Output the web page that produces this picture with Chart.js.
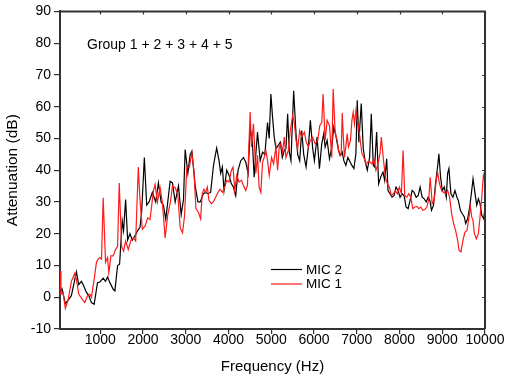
<!DOCTYPE html>
<html>
<head>
<meta charset="utf-8">
<script src="https://cdn.jsdelivr.net/npm/chart.js@4.4.1/dist/chart.umd.min.js"></script>
<style>
html,body{margin:0;padding:0;background:#fff}
</style>
</head>
<body>
<canvas id="chart" width="505" height="379"></canvas>
<script>
// tick values
const xTicks=[1000,2000,3000,4000,5000,6000,7000,8000,9000,10000];
const yMin=-10, yMax=90;

// MIC 2 (black)
const mic2Freq=[60,105,183,246,324,442,496,559,598,677,731,794,857,935,990,1068,1123,1170,1225,1303,1342,1405,1452,1514,1546,1593,1640,1694,1749,1812,1875,1929,1969,2031,2086,2141,2219,2297,2360,2423,2477,2532,2579,2634,2689,2752,2830,2893,2947,2986,3049,3104,3143,3221,3284,3339,3410,3464,3519,3582,3645,3676,3723,3778,3817,3856,3895,3958,4013,4067,4114,4169,4224,4287,4349,4404,4459,4506,4561,4600,4639,4678,4741,4796,4850,4913,4952,4991,5030,5070,5109,5164,5211,5258,5305,5344,5383,5422,5461,5524,5579,5618,5665,5712,5759,5814,5868,5915,5970,6009,6072,6127,6181,6228,6260,6307,6362,6416,6463,6518,6573,6620,6660,6698,6745,6792,6831,6886,6933,6980,7011,7050,7105,7152,7199,7246,7301,7340,7387,7418,7465,7512,7559,7614,7653,7700,7731,7778,7825,7872,7919,7966,8013,8060,8107,8154,8201,8248,8295,8342,8389,8436,8483,8530,8577,8624,8671,8710,8749,8796,8843,8890,8921,8961,9000,9047,9094,9125,9156,9203,9250,9297,9344,9376,9423,9470,9516,9548,9595,9642,9689,9720,9767,9806,9845,9884,9924,9971,10000];
const mic2Db=[1.5,2.7,-2,-1,0.5,8,4,5,4,1.5,0.5,-1.7,-2.2,4.6,4.8,6,5,6.4,4.6,2.5,2,10,10.4,24,21,30.8,18,20,18,19.3,21,22,27,44,29,30,33,30,36,30,29,24.5,30,36.5,36,30,35,26,30.8,46.5,39,45,46,35,30,30,32.6,33,32.6,33,41,43.6,47,43,39,41,33.6,40,38.4,35.7,34.7,32,40,43,44,42.5,39,53.6,48.3,37.8,45,52,43,45.7,45,55,50,64,56.7,50.4,46.8,47.8,48.8,44,46.2,46.8,57.8,45.7,43,65,51.5,45,43,52.5,45,41,47.3,55.7,46.8,43,50.4,40.5,48.3,51.5,47.3,49.4,43.6,47.3,53.6,50.4,46.2,44.7,45.7,43,41.5,44,43,41.5,40.5,45.2,62,48.8,61,46.8,42.6,40,44,57.8,41.5,41,52,35.7,37.8,39.4,36.8,43.6,33.6,32.6,31.5,32,34.7,33.6,31.5,32.6,32,28.4,27.9,30.5,33.6,33,31.5,32,34.7,31.5,31,30,31.5,30.5,27.4,29,35.7,41,45.2,37.8,33.6,34.7,31.5,38.9,40.5,32.6,31.5,33.6,31.5,30.5,27.4,26.3,25.3,23.2,24.7,28.4,33.6,37.3,32.6,29,31,29.5,25.8,24.7,28.4];

// MIC 1 (red)
const mic1Freq=[60,80,128,183,246,324,403,442,496,575,637,700,755,794,857,911,951,990,1029,1068,1123,1170,1201,1248,1303,1358,1405,1444,1499,1546,1593,1655,1718,1773,1828,1890,1929,1984,2047,2109,2164,2243,2282,2337,2399,2454,2517,2579,2642,2689,2752,2814,2869,2924,2971,3025,3080,3143,3190,3237,3300,3347,3386,3425,3464,3504,3543,3598,3645,3699,3754,3801,3856,3911,3958,4013,4067,4106,4146,4193,4247,4302,4349,4404,4443,4506,4537,4584,4639,4678,4717,4756,4796,4835,4874,4913,4952,5007,5054,5109,5148,5187,5226,5265,5305,5344,5398,5445,5500,5539,5579,5618,5665,5712,5774,5821,5868,5915,5970,6025,6088,6134,6181,6213,6260,6307,6362,6416,6448,6495,6542,6597,6636,6660,6690,6713,6752,6776,6807,6854,6886,6917,6948,6980,7011,7042,7073,7120,7167,7214,7261,7308,7355,7402,7449,7496,7543,7575,7622,7669,7716,7763,7810,7856,7903,7950,7997,8044,8084,8123,8170,8217,8264,8311,8358,8405,8452,8499,8546,8593,8640,8686,8718,8765,8812,8859,8890,8937,8984,9031,9078,9125,9172,9219,9266,9313,9360,9391,9438,9485,9532,9579,9626,9657,9689,9720,9751,9798,9845,9884,9924,9963,9986,10000];
const mic1Db=[8.3,1,1.5,-3.5,-1,5,7.5,5.6,1,-0.6,-1.7,0.4,1,0,5.6,11,12,12.5,12,31.3,11,12.5,7.7,13,13,15,16,36,16,14.5,17.7,15,18,18.7,17.7,41,30.8,21.4,22.4,25,24.5,33.4,35.5,30,34.5,29.7,18.7,26,30,35,34.5,32.4,21.9,20.3,25.5,41,40.7,45.4,40,28,26.6,24.7,32.6,34,33,34.7,30.5,29.5,30,31.5,33,34,33,34.7,36.8,36.3,40,41,33.6,38.4,36.3,36.8,35.2,33.6,35.2,58.3,47.3,54.6,39,44.7,34.7,33,42.5,44,46.2,43,38.4,44,42,47.3,40,47.3,48.3,45.7,50.4,44,46.2,52.5,57.2,55,49.4,46.8,52.5,50.4,52,48.8,47.3,49.4,50.4,48.3,49.4,54,55,64,49.4,55.7,54,44,65.6,52,49.4,44.7,45,58,49.4,44,48.3,51.5,47.3,49.4,55.7,58.3,54.6,58.8,55.7,53.6,50.4,45.2,44,42,42.6,42.6,42,43.6,40,42,45.2,50.4,43.6,37.8,35.7,34.7,32,32.6,33.6,32.6,34.7,32.6,46.2,32,31.5,32.6,31.5,27.9,28.4,28.6,27.9,28.4,27.4,27.6,28.4,31,37.8,29.5,30.5,36.8,39.4,35.7,33.6,33,32.6,33.6,31.5,26.3,23.2,21,18,14.8,14.3,18,20.5,21,25.3,28.6,25.3,24.2,20,18.4,20,25.3,31.5,38.4,37.3,31.5];

const note="Group 1 + 2 + 3 + 4 + 5";
const FONT='"Liberation Sans", Arial, sans-serif';
const AXIS='#333';

function pairs(xs,ys){ return xs.map((x,i)=>({x:x,y:ys[i]})); }

// box on top/right with inward ticks, legend and note text
const extras={
  id:'extras',
  afterDraw(chart){
    const ctx=chart.ctx, a=chart.chartArea;
    const xs=chart.scales.x, ys=chart.scales.y;
    ctx.save();
    ctx.strokeStyle=AXIS;
    ctx.lineWidth=2;
    ctx.beginPath();
    ctx.moveTo(a.left,a.top); ctx.lineTo(a.right,a.top); ctx.lineTo(a.right,a.bottom);
    ctx.stroke();
    ctx.lineWidth=1.2;
    ctx.beginPath();
    xTicks.forEach(v=>{ const px=Math.round(xs.getPixelForValue(v))+0.5; ctx.moveTo(px,a.top); ctx.lineTo(px,a.top+3); });
    ys.ticks.forEach(t=>{ const py=Math.round(ys.getPixelForValue(t.value))+0.5; ctx.moveTo(a.right,py); ctx.lineTo(a.right-3,py); });
    ctx.stroke();

    // note
    ctx.fillStyle='#000';
    ctx.textBaseline='middle';
    ctx.font='14px '+FONT;
    ctx.fillText(note,87,45);

    // legend (MIC 2 then MIC 1)
    ctx.font='13.5px '+FONT;
    const rows=[chart.data.datasets[1],chart.data.datasets[0]];
    rows.forEach((ds,i)=>{
      const y=269.5+i*14.5;
      ctx.strokeStyle=ds.borderColor;
      ctx.lineWidth=1.2;
      ctx.beginPath(); ctx.moveTo(271,y); ctx.lineTo(302,y); ctx.stroke();
      ctx.fillText(ds.label,306,y+0.5);
    });
    ctx.restore();
  }
};

Chart.defaults.font.family=FONT;

new Chart(document.getElementById('chart'),{
  type:'line',
  data:{
    datasets:[
      {label:'MIC 1',data:pairs(mic1Freq,mic1Db),borderColor:'#ff1a1a',borderWidth:1.2,pointRadius:0,tension:0},
      {label:'MIC 2',data:pairs(mic2Freq,mic2Db),borderColor:'#000000',borderWidth:1.2,pointRadius:0,tension:0}
    ]
  },
  options:{
    responsive:false,
    animation:false,
    layout:{padding:{left:0,right:20,top:11,bottom:0}},
    plugins:{legend:{display:false},tooltip:{enabled:false}},
    scales:{
      x:{
        type:'linear',min:58,max:10000,
        afterBuildTicks:s=>{ s.ticks=xTicks.map(v=>({value:v})); },
        afterFit:s=>{ s.height=50; },
        ticks:{autoSkip:false,maxRotation:0,color:'#000',font:{size:14},padding:-2,callback:v=>String(v)},
        grid:{drawOnChartArea:false,tickLength:5,color:AXIS,lineWidth:1.2},
        border:{color:AXIS,width:2},
        title:{display:true,text:'Frequency (Hz)',color:'#000',font:{size:15},padding:{top:0,bottom:3}}
      },
      y:{
        min:yMin,max:yMax,
        afterFit:s=>{ s.width=60; },
        ticks:{stepSize:10,color:'#000',font:{size:14},padding:3,callback:v=>String(v)},
        grid:{drawOnChartArea:false,tickLength:6,color:AXIS,lineWidth:1.2},
        border:{color:AXIS,width:2},
        title:{display:true,text:'Attenuation (dB)',color:'#000',font:{size:15.5},padding:{top:3,bottom:0}}
      }
    }
  },
  plugins:[extras]
});
</script>
</body>
</html>
